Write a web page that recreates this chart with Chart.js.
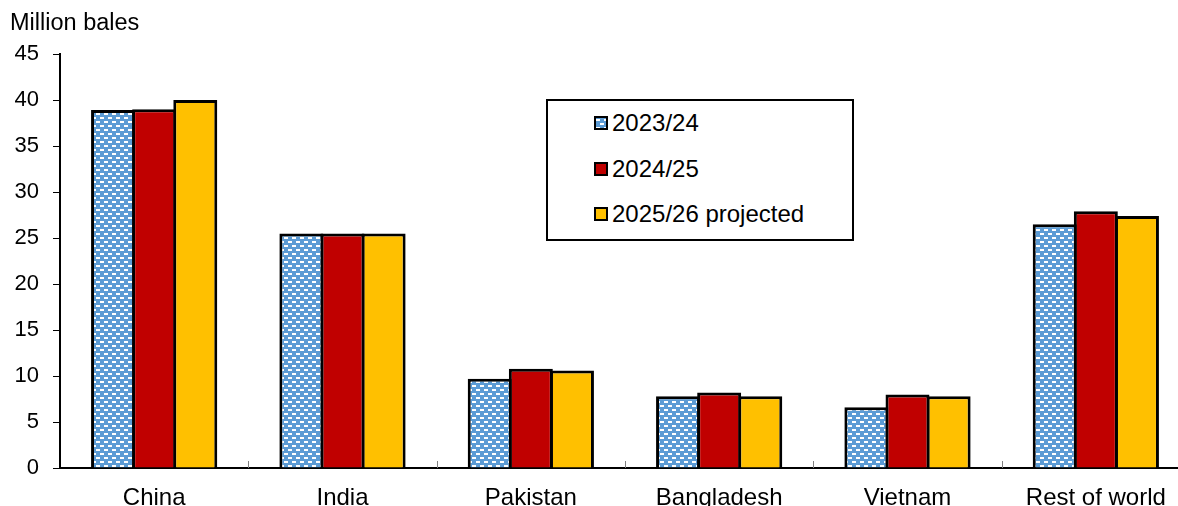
<!DOCTYPE html>
<html>
<head>
<meta charset="utf-8">
<script src="https://cdn.jsdelivr.net/npm/chart.js@4.4.1/dist/chart.umd.min.js"></script>
<style>
  html, body { margin: 0; padding: 0; background: #fff; overflow: hidden; }
  #wrap { position: relative; width: 1190px; height: 506px; }
  #title { position: absolute; left: 10px; top: 9px; font: 23.5px "Liberation Sans", Arial, sans-serif; color: #000; }
  #legend { position: absolute; left: 546px; top: 99px; width: 304px; height: 138px; border: 2px solid #000; background: #fff;
            font: 24px "Liberation Sans", Arial, sans-serif; color: #000; }
  .item { position: absolute; left: 46px; height: 28px; display: flex; align-items: center; white-space: nowrap; }
  .sw { width: 10px; height: 10px; border: 2px solid #000; margin-right: 4px; }
</style>
</head>
<body>
<div id="wrap">
  <canvas id="cottonChart"></canvas>
  <div id="title">Million bales</div>
  <div id="legend"></div>
</div>
<script>
const categories = ['China', 'India', 'Pakistan', 'Bangladesh', 'Vietnam', 'Rest of world'];
const seriesLabels = ['2023/24', '2024/25', '2025/26 projected'];
const values2023 = [38.9, 25.5, 9.7, 7.8, 6.6, 26.5];
const values2024 = [39.0, 25.5, 10.8, 8.2, 8.0, 27.9];
const values2025 = [40.0, 25.5, 10.6, 7.8, 7.8, 27.4];
const yMax = 45;
const yStep = 5;

const FONT = '"Liberation Sans", Arial, sans-serif';

// blue bars with little white dashes, like the Excel pattern fill
function makePattern() {
  const c = document.createElement('canvas');
  c.width = 8;
  c.height = 8;
  const g = c.getContext('2d');
  g.fillStyle = '#5B9BD5';
  g.fillRect(0, 0, 8, 8);
  g.fillStyle = '#fff';
  g.fillRect(0, 1, 4, 2);
  g.fillRect(4, 5, 4, 2);
  return c;
}
const patternCanvas = makePattern();
const ctx = document.getElementById('cottonChart').getContext('2d');
const bluePattern = ctx.createPattern(patternCanvas, 'repeat');

const fills = [bluePattern, '#C00000', '#FFC000'];
const swatchFills = ['url(' + patternCanvas.toDataURL() + ')', '#C00000', '#FFC000'];

// small tick marks pointing up into the plot between categories
const innerTicks = {
  id: 'innerTicks',
  afterDraw(chart) {
    const x = chart.scales.x;
    const c = chart.ctx;
    c.save();
    c.strokeStyle = '#808080';
    c.lineWidth = 1;
    for (let i = 1; i < categories.length; i++) {
      const px = Math.round((x.getPixelForTick(i - 1) + x.getPixelForTick(i)) / 2) + 0.5;
      c.beginPath();
      c.moveTo(px, x.top);
      c.lineTo(px, x.top - 7);
      c.stroke();
    }
    c.restore();
  }
};

new Chart(ctx, {
  type: 'bar',
  data: {
    labels: categories,
    datasets: [values2023, values2024, values2025].map((vals, i) => ({
      label: seriesLabels[i],
      data: vals,
      backgroundColor: fills[i],
      borderColor: '#000',
      borderWidth: 3,
      borderSkipped: 'start',
      categoryPercentage: 0.655,
      barPercentage: 1.07
    }))
  },
  options: {
    responsive: true,
    maintainAspectRatio: false,
    animation: false,
    layout: {
      padding: { top: 54, left: 0, right: 0, bottom: 0 }
    },
    plugins: {
      legend: { display: false },
      title: { display: false },
      tooltip: { enabled: false }
    },
    scales: {
      x: {
        grid: { drawOnChartArea: false, drawTicks: false },
        border: { color: '#000', width: 2 },
        ticks: {
          color: '#000',
          padding: 16,
          font: { family: FONT, size: 24 }
        },
        afterFit(scale) { scale.height = 38; }
      },
      y: {
        min: 0,
        max: yMax,
        grid: { drawOnChartArea: false, tickLength: 7, color: '#000' },
        border: { color: '#000', width: 2 },
        ticks: {
          stepSize: yStep,
          color: '#000',
          padding: 14,
          font: { family: FONT, size: 22 }
        },
        afterFit(scale) { scale.width = 60; }
      }
    }
  },
  plugins: [innerTicks]
});

// legend box drawn as html
const legend = document.getElementById('legend');
const rowTops = [8, 54, 99];
seriesLabels.forEach((label, i) => {
  const item = document.createElement('div');
  item.className = 'item';
  item.style.top = rowTops[i] + 'px';
  const sw = document.createElement('span');
  sw.className = 'sw';
  sw.style.background = swatchFills[i];
  item.appendChild(sw);
  item.appendChild(document.createTextNode(label));
  legend.appendChild(item);
});
</script>
</body>
</html>
